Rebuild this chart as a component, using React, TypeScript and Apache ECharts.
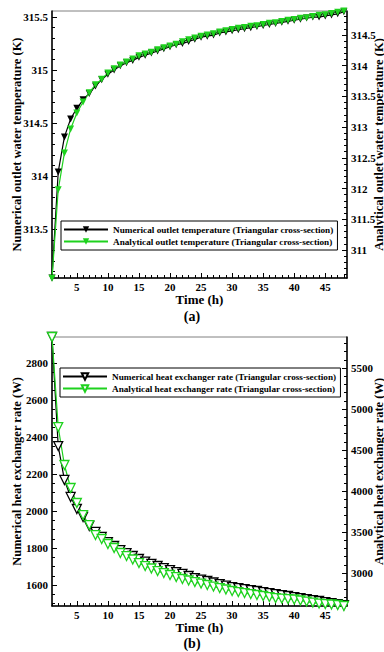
import React, { useEffect, useRef } from "react";
import * as echarts from "echarts";

const hours = [1, 2, 3, 4, 5, 6, 7, 8, 9, 10, 11, 12, 13, 14, 15, 16, 17, 18, 19, 20, 21, 22, 23, 24, 25, 26, 27, 28, 29, 30, 31, 32, 33, 34, 35, 36, 37, 38, 39, 40, 41, 42, 43, 44, 45, 46, 47, 48];

const numericalOutletTemp = [313.04, 314.04, 314.37, 314.54, 314.64, 314.72, 314.78, 314.85, 314.91, 314.96, 315.0, 315.04, 315.07, 315.09, 315.12, 315.14, 315.16, 315.18, 315.2, 315.22, 315.24, 315.25, 315.27, 315.29, 315.31, 315.32, 315.33, 315.35, 315.36, 315.37, 315.38, 315.39, 315.4, 315.41, 315.42, 315.43, 315.44, 315.45, 315.46, 315.47, 315.48, 315.49, 315.5, 315.5, 315.51, 315.52, 315.53, 315.55];

const analyticalOutletTemp = [310.54, 311.98, 312.58, 312.97, 313.23, 313.41, 313.56, 313.69, 313.78, 313.88, 313.95, 314.01, 314.06, 314.11, 314.16, 314.19, 314.22, 314.26, 314.29, 314.32, 314.35, 314.39, 314.42, 314.45, 314.48, 314.5, 314.52, 314.55, 314.57, 314.59, 314.61, 314.62, 314.64, 314.65, 314.67, 314.69, 314.7, 314.72, 314.74, 314.75, 314.77, 314.78, 314.8, 314.82, 314.83, 314.85, 314.87, 314.89];

const numericalHeatRate = [2940, 2351, 2168, 2076, 2011, 1968, 1919, 1887, 1860, 1832, 1811, 1789, 1773, 1757, 1741, 1727, 1714, 1703, 1692, 1681, 1670, 1660, 1649, 1638, 1630, 1622, 1614, 1605, 1597, 1589, 1584, 1578, 1573, 1568, 1562, 1557, 1551, 1546, 1541, 1535, 1530, 1524, 1519, 1514, 1508, 1503, 1497, 1492];

const analyticalHeatRate = [5878, 4780, 4317, 4037, 3854, 3707, 3585, 3463, 3415, 3354, 3305, 3244, 3207, 3165, 3122, 3085, 3055, 3024, 3000, 2976, 2951, 2927, 2909, 2890, 2872, 2854, 2835, 2817, 2799, 2781, 2768, 2756, 2744, 2732, 2720, 2707, 2695, 2689, 2683, 2677, 2665, 2652, 2640, 2628, 2622, 2616, 2610, 2598];

const timeTicks = [5, 10, 15, 20, 25, 30, 35, 40, 45];
const tempLeftTicks = [313.5, 314, 314.5, 315, 315.5];
const tempRightTicks = [311, 311.5, 312, 312.5, 313, 313.5, 314, 314.5];
const heatLeftTicks = [1600, 1800, 2000, 2200, 2400, 2600, 2800];
const heatRightTicks = [3000, 3500, 4000, 4500, 5000, 5500];

const seriesNames = [
  "Numerical outlet temperature (Triangular cross-section)",
  "Analytical outlet temperature (Triangular cross-section)",
  "Numerical heat exchanger rate (Triangular cross-section)",
  "Analytical heat exchanger rate (Triangular cross-section)",
];

const FONT = "'Liberation Serif', 'Times New Roman', serif";
const GREEN = "#1ed21e";

function stepValues(min: number, max: number, step: number): number[] {
  const out: number[] = [];
  const start = Math.ceil(min / step - 1e-9) * step;
  for (let v = start; v <= max + 1e-9; v += step) out.push(Math.round(v * 1000) / 1000);
  return out;
}

const X_MIN = 1;
const X_MAX = 48.5;
const T_L = [313.04, 315.557];
const T_R = [310.544, 314.89];
const H_L = [1487, 2940];
const H_R = [2598, 5878];

const plain = (v: number) => String(v);
const labelStyle = { color: "#000", fontFamily: FONT, fontWeight: "bold" as const, fontSize: 11, formatter: plain };
const nameStyle = { color: "#000", fontFamily: FONT, fontWeight: "bold" as const, fontSize: 12.5 };

function xAxes(grid: number) {
  return [
    {
      type: "value", gridIndex: grid, position: "bottom", min: X_MIN, max: X_MAX,
      axisLine: { lineStyle: { color: "#000", width: 1.5 } },
      axisTick: { inside: true, length: 5, customValues: timeTicks, lineStyle: { color: "#000", width: 1 } },
      axisLabel: { ...labelStyle, customValues: timeTicks, margin: 3 },
      splitLine: { show: false },
      name: "Time (h)", nameLocation: "middle", nameGap: 15, nameTextStyle: { ...nameStyle, fontSize: 13 },
    },
    {
      type: "value", gridIndex: grid, position: "bottom", min: X_MIN, max: X_MAX,
      axisLine: { show: false },
      axisTick: { inside: true, length: 3, customValues: stepValues(X_MIN, X_MAX, 1), lineStyle: { color: "#000", width: 1 } },
      axisLabel: { show: false },
      splitLine: { show: false },
    },
  ];
}

function yAxes(grid: number, pos: "left" | "right", ext: number[], ticks: number[], minorStep: number, name: string, gap: number) {
  return [
    {
      type: "value", gridIndex: grid, position: pos, min: ext[0], max: ext[1],
      axisLine: { show: true, lineStyle: { color: "#000", width: 1.5 } },
      axisTick: { inside: true, length: 5, customValues: ticks, lineStyle: { color: "#000", width: 1 } },
      axisLabel: { ...labelStyle, customValues: ticks, margin: 4 },
      splitLine: { show: false },
      name, nameLocation: "middle", nameGap: gap, nameRotate: 90, nameTextStyle: nameStyle,
      nameMoveOverlap: false,
    },
    {
      type: "value", gridIndex: grid, position: pos, min: ext[0], max: ext[1],
      axisLine: { show: false },
      axisTick: { inside: true, length: 3, customValues: stepValues(ext[0], ext[1], minorStep), lineStyle: { color: "#000", width: 1 } },
      axisLabel: { show: false },
      splitLine: { show: false },
    },
  ];
}

function lineSeries(name: string, xi: number, yi: number, values: number[], color: string, hollow: boolean) {
  return {
    type: "line", name, xAxisIndex: xi, yAxisIndex: yi,
    data: hours.map((h, i) => [h, values[i]]),
    symbol: "triangle", symbolRotate: 180, symbolSize: hollow ? 9 : 7,
    showAllSymbol: true, clip: false,
    lineStyle: { color, width: 1.2 },
    itemStyle: hollow ? { color: "#fff", borderColor: color, borderWidth: 1.3 } : { color },
  };
}

const legendBase = {
  orient: "vertical", backgroundColor: "#fff", borderColor: "#000", borderWidth: 1,
  padding: [3, 4, 3, 2], itemGap: 1, itemWidth: 44, itemHeight: 8,
  textStyle: { color: "#000", fontFamily: FONT, fontWeight: "bold", fontSize: 9.2, lineHeight: 11 },
};

export default function App() {
  const ref = useRef<HTMLDivElement>(null);
  useEffect(() => {
    if (!ref.current) return;
    const chart = echarts.init(ref.current, null, { renderer: "svg" });
    chart.setOption({
      animation: false,
      backgroundColor: "#fff",
      grid: [
        { left: 52, right: 37, top: 11, height: 267, show: true, borderColor: "#808080", borderWidth: 1, outerBoundsMode: "none", containLabel: false },
        { left: 52, right: 37, top: 337, height: 269, show: true, borderColor: "#808080", borderWidth: 1, outerBoundsMode: "none", containLabel: false },
      ],
      xAxis: [...xAxes(0), ...xAxes(1)],
      yAxis: [
        ...yAxes(0, "left", T_L, tempLeftTicks, 0.1, "Numerical outlet water temperature (K)", 29),
        ...yAxes(0, "right", T_R, tempRightTicks, 0.1, "Analytical outlet water temperature (K)", 25),
        ...yAxes(1, "left", H_L, heatLeftTicks, 50, "Numerical heat exchanger rate (W)", 29),
        ...yAxes(1, "right", H_R, heatRightTicks, 100, "Analytical heat exchanger rate (W)", 25),
      ],
      legend: [
        { ...legendBase, left: 61, top: 221, data: [seriesNames[0], seriesNames[1]] },
        { ...legendBase, left: 60, top: 368, data: [seriesNames[2], seriesNames[3]] },
      ],
      series: [
        lineSeries(seriesNames[0], 0, 0, numericalOutletTemp, "#000", false),
        lineSeries(seriesNames[1], 0, 2, analyticalOutletTemp, GREEN, false),
        lineSeries(seriesNames[2], 2, 4, numericalHeatRate, "#000", true),
        lineSeries(seriesNames[3], 2, 6, analyticalHeatRate, GREEN, true),
      ],
      graphic: [
        { type: "text", left: "center", top: 309, style: { text: "(a)", font: `bold 14px ${FONT}`, fill: "#000" } },
        { type: "text", left: "center", top: 636, style: { text: "(b)", font: `bold 14px ${FONT}`, fill: "#000" } },
      ],
    });
    return () => chart.dispose();
  }, []);
  return <div ref={ref} style={{ position: "fixed", left: 0, top: 0, width: 384, height: 652, background: "#fff" }} />;
}
